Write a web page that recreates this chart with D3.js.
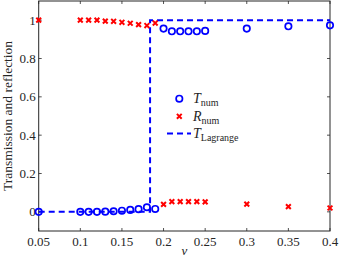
<!DOCTYPE html>
<html>
<head>
<meta charset="utf-8">
<script src="https://cdn.jsdelivr.net/npm/d3@7"></script>
<style>
  body { margin: 0; background: #fff; }
  svg text { font-family: "Liberation Serif", "DejaVu Serif", serif; fill: #262626; }
</style>
</head>
<body>
<div id="chart"></div>
<script>
var vNum = [0.05, 0.10, 0.11, 0.12, 0.13, 0.14, 0.15, 0.16, 0.17, 0.18, 0.19,
            0.20, 0.21, 0.22, 0.23, 0.24, 0.25, 0.30, 0.35, 0.40];
var tNum = [0, 0, 0, 0, 0.001, 0.003, 0.006, 0.01, 0.014, 0.024, 0.015,
            0.956, 0.942, 0.942, 0.942, 0.942, 0.944, 0.956, 0.968, 0.973];
var rNum = [1, 1, 1, 1, 0.995, 0.994, 0.989, 0.984, 0.977, 0.972, 0.985,
            0.039, 0.053, 0.053, 0.053, 0.053, 0.052, 0.040, 0.027, 0.020];
var vLagrange = [0.05, 0.1838, 0.1838, 0.40];
var tLagrange = [0, 0, 1, 1];
var xTicks = [0.05, 0.1, 0.15, 0.2, 0.25, 0.3, 0.35, 0.4];
var yTicks = [0, 0.2, 0.4, 0.6, 0.8, 1];

const width = 340, height = 259;
const margin = {left: 38.7, right: 10, top: 1, bottom: 28};
const axisColor = '#262626';

const svg = d3.select('#chart').append('svg')
    .attr('width', width)
    .attr('height', height);

const x = d3.scaleLinear().domain([0.05, 0.4]).range([margin.left, width - margin.right]);
const y = d3.scaleLinear().domain([-0.1, 1.1]).range([height - margin.bottom, margin.top]);

// box
svg.append('rect')
    .attr('x', x(0.05)).attr('y', y(1.1))
    .attr('width', x(0.4) - x(0.05)).attr('height', y(-0.1) - y(1.1))
    .attr('fill', 'none').attr('stroke', axisColor).attr('stroke-width', 1);

// ticks (inward, on all four sides)
const tickLen = 3;
xTicks.forEach(t => {
    svg.append('line').attr('x1', x(t)).attr('x2', x(t))
        .attr('y1', y(-0.1)).attr('y2', y(-0.1) - tickLen)
        .attr('stroke', axisColor).attr('stroke-width', 0.8);
    svg.append('line').attr('x1', x(t)).attr('x2', x(t))
        .attr('y1', y(1.1)).attr('y2', y(1.1) + tickLen)
        .attr('stroke', axisColor).attr('stroke-width', 0.8);
    svg.append('text').attr('x', x(t)).attr('y', y(-0.1) + 15)
        .attr('text-anchor', 'middle').attr('font-size', 13)
        .text(d3.format('')(t));
});
yTicks.forEach(t => {
    svg.append('line').attr('x1', x(0.05)).attr('x2', x(0.05) + tickLen)
        .attr('y1', y(t)).attr('y2', y(t))
        .attr('stroke', axisColor).attr('stroke-width', 0.8);
    svg.append('line').attr('x1', x(0.4)).attr('x2', x(0.4) - tickLen)
        .attr('y1', y(t)).attr('y2', y(t))
        .attr('stroke', axisColor).attr('stroke-width', 0.8);
    svg.append('text').attr('x', x(0.05) - 3).attr('y', y(t) + 4.5)
        .attr('text-anchor', 'end').attr('font-size', 13)
        .text(d3.format('')(t));
});

// axis labels
svg.append('text')
    .attr('transform', `translate(12, ${(y(-0.1) + y(1.1)) / 2}) rotate(-90)`)
    .attr('text-anchor', 'middle').attr('font-size', 13.5)
    .text('Transmission and reflection');
svg.append('text')
    .attr('x', (x(0.05) + x(0.4)) / 2).attr('y', 255)
    .attr('text-anchor', 'middle').attr('font-size', 13).attr('font-style', 'italic')
    .text('v');

// Lagrange step
const line = d3.line().x(d => x(d[0])).y(d => y(d[1]));
svg.append('path')
    .attr('d', line(d3.zip(vLagrange, tLagrange)))
    .attr('fill', 'none').attr('stroke', '#0000ff')
    .attr('stroke-width', 2).attr('stroke-dasharray', '6,4');

// R crosses
function cross(g, cx, cy, s) {
    g.append('path')
        .attr('d', `M${cx - s},${cy - s}L${cx + s},${cy + s}M${cx - s},${cy + s}L${cx + s},${cy - s}`)
        .attr('stroke', '#ff0000').attr('stroke-width', 2).attr('fill', 'none');
}
const rg = svg.append('g');
d3.zip(vNum, rNum).forEach(d => cross(rg, x(d[0]), y(d[1]), 2.4));

// T circles
svg.append('g').selectAll('circle')
    .data(d3.zip(vNum, tNum))
    .enter().append('circle')
    .attr('cx', d => x(d[0]))
    .attr('cy', d => y(d[1]))
    .attr('r', 3.2)
    .attr('fill', 'none')
    .attr('stroke', '#0000ff')
    .attr('stroke-width', 1.7);

// legend
const lg = svg.append('g');
lg.append('circle').attr('cx', 179.3).attr('cy', 98.7).attr('r', 3.2)
    .attr('fill', 'none').attr('stroke', '#0000ff').attr('stroke-width', 1.7);
cross(lg, 179.3, 116.3, 2.4);
lg.append('line').attr('x1', 167).attr('x2', 191).attr('y1', 133.5).attr('y2', 133.5)
    .attr('stroke', '#0000ff').attr('stroke-width', 2).attr('stroke-dasharray', '6,4');

function legendLabel(ly, main, sub) {
    const t = lg.append('text').attr('x', 193).attr('y', ly).attr('font-size', 14);
    t.append('tspan').attr('font-style', 'italic').text(main);
    t.append('tspan').attr('font-size', 10).attr('dy', 3).text(sub);
}
legendLabel(103, 'T', 'num');
legendLabel(120.5, 'R', 'num');
legendLabel(138, 'T', 'Lagrange');
</script>
</body>
</html>
